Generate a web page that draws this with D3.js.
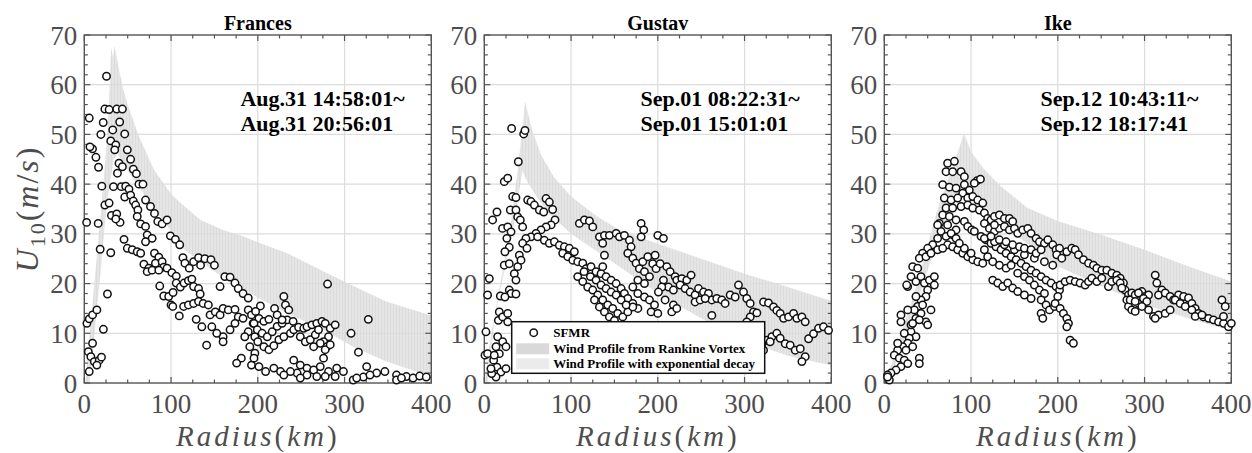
<!DOCTYPE html>
<html>
<head>
<meta charset="utf-8">
<script src="https://cdn.jsdelivr.net/npm/d3@7"></script>
<style>
  body { margin: 0; background: #fff; }
  svg { display: block; }
  text { font-family: "Liberation Serif", Tinos, "Times New Roman", "DejaVu Serif", serif; }
</style>
</head>
<body>
<div id="chart"></div>
<script>
// ---- data ----
var xTicks = [0, 100, 200, 300, 400];
var yTicks = [0, 10, 20, 30, 40, 50, 60, 70];
var titles = ["Frances", "Gustav", "Ike"];
var timeLabels = [
    ["Aug.31 14:58:01~", "Aug.31 20:56:01"],
    ["Sep.01 08:22:31~", "Sep.01 15:01:01"],
    ["Sep.12 10:43:11~", "Sep.12 18:17:41"]
];
var legendLabels = ["SFMR", "Wind Profile from Rankine Vortex", "Wind Profile with exponential decay"];

// SFMR observations [radius km, U10 m/s]
var francesSfmr = [[25.6,61.7],[5.7,53.3],[23.7,55.1],[28.6,55],[37.4,55.1],[43.9,55.1],[21.8,52.4],[40.8,52.5],[32.8,50.9],[19.1,50],[46.6,50.1],[30.5,48.7],[36.3,47.9],[35.1,46.9],[9.5,47.1],[13.4,45.4],[49.6,46.9],[53.4,45],[40,44.2],[43.9,43.5],[16.4,43.4],[56.5,43],[38.2,42.2],[60,42.1],[20.2,39.6],[33.6,39.5],[42.7,39.5],[47.7,39.6],[51.5,39],[63,40],[67.6,40],[46.6,37.4],[53.4,37.8],[56.5,36.6],[2.7,32.3],[23.7,35.8],[28.6,36.2],[59.2,35.8],[61.8,34.8],[70.6,36.8],[76.3,35.5],[31.3,33.7],[37.4,34],[41.2,32.3],[36.3,33],[16,32.1],[61,33.5],[65,32],[70.6,31.5],[80.9,34.1],[84.7,32.5],[89.7,32],[95.4,32.8],[18.3,26.9],[30.5,26.2],[45.8,28.9],[49.6,27.1],[55.3,26.8],[61,26.4],[65,26.1],[72.5,29.8],[78.2,29.1],[70.6,28.4],[99.2,29.6],[105,28.9],[110,27.8],[68.7,23.9],[74.4,23.1],[72.5,22.4],[80.9,26.1],[85.9,25.3],[82,24.1],[89.7,24.4],[91.6,23.3],[78.2,22.7],[85.9,22.7],[95.4,23.1],[101,22.2],[106,21.5],[113.7,25.2],[116,24.1],[121,23.1],[126,24.4],[131.7,25.2],[134,23.7],[139,25],[146,24.8],[150,23.7],[87,19.5],[91.6,17.5],[97.3,17.4],[102.3,18.2],[100,15.7],[106,20.1],[110.7,19.3],[115,20.1],[120,20.6],[124,20.9],[126,19.4],[131.7,19],[133.6,17.9],[102,15.4],[109.5,13.5],[114.5,15.4],[120,15.7],[126,16],[131.7,16.4],[137,16],[143,15.7],[156.5,19.4],[162,21.4],[168,21.3],[173.7,20.1],[177.5,19],[183,18],[189,17.1],[129,12.8],[135.5,11.3],[141,7.6],[145,13.7],[151,14.3],[156.5,13.7],[160,15],[166,14.7],[173.7,14.8],[177.5,13.3],[173.7,12],[168,10.7],[160,9.3],[152.7,10],[147,11.3],[160,8.3],[183,13],[189,14.7],[192.7,13.7],[194.6,12],[189,10.3],[185,9.3],[190.8,7.3],[196.6,6],[181,5],[175.6,4],[192.7,3.6],[196.6,9.3],[3,12],[5.7,12.9],[9.5,13.7],[14.5,14.7],[26.7,17.9],[22,10.8],[9.5,8],[4.6,6.3],[7.6,5.3],[11.5,4.3],[17.2,4.6],[19.8,5.2],[5.7,2.3],[14.5,3.6],[6.5,47.5],
    [280.4,19.9],[327.4,12.8],[307.5,10],[316,6.2],[230,17.4],[231.9,15.7],[235.7,14.7],[219.3,15],[203,15.5],[197.5,14.4],[201.3,13],[207,12.4],[212.8,12.8],[195.6,12],[199.4,10.7],[205,10],[210.9,9.3],[216.6,10.3],[222.3,11.4],[228,12],[233.8,12.7],[240.7,12.4],[200,8.3],[207,7.3],[212.8,6.7],[218.5,7.5],[224.3,8.7],[230,9.3],[237.6,10],[241.4,10.7],[247,11.2],[253,11],[256.7,11.3],[262.4,11.7],[268,12],[274,12.4],[277.7,12],[283.5,11],[289.2,11.7],[281.5,9.3],[275.8,8.3],[279.6,7.3],[249,9.3],[254.8,8.3],[260.5,8.7],[266.3,9.7],[270,10.7],[272,8],[264.4,7.3],[195.6,5],[201.3,3.3],[209,2.3],[218.5,3],[226.2,2.3],[241.4,4.6],[249,3.6],[256.7,3],[264.4,2.6],[272,3.3],[281.5,2.3],[291,3],[298.7,2.3],[289.2,1.3],[277.7,1.3],[268,1.3],[256.7,1.6],[245.3,2],[237.6,2.3],[230,1.6],[249,1],[275.8,5],[277.7,6.7],[283.5,7.7],[310,0.6],[321.7,1.2],[325.5,3.3],[337,2],[346.5,2.3],[359.9,1.6],[371.3,1.3],[379,1],[386.6,1.4],[394.2,1.2],[359.9,0.6],[365.6,1],[329.3,1.6],[314,1],[222.3,13.7],[228,12.7]];

var gustavSfmr = [[31.5,51.2],[45.4,50.1],[46.9,50.8],[39.2,44.5],[23,40.5],[27,41.2],[3.8,17.7],[5.8,21],[1.9,10.3],[0.8,5.6],[9.6,32.8],[14.6,34.4],[21,31.1],[27,31.4],[30.8,30.4],[26,29.1],[28.8,27.3],[23.8,26.4],[32.7,37.5],[36.5,37.3],[30,34.8],[36.5,34.8],[38.5,33.4],[41.5,32.8],[44.2,31.4],[50,36.8],[53.8,36.5],[57.7,35.8],[63.5,34.8],[68.5,34.4],[71.2,37.1],[75,36.4],[78.8,34.9],[81.5,32.8],[77,31.8],[71.2,31.4],[65.4,30.8],[59.6,30.1],[53.8,29.4],[48,29.1],[44.2,28.1],[49.2,27.1],[40.4,25.7],[23,23.7],[28.8,24],[38.5,23.4],[42.3,24.7],[34.6,22],[36.5,20.7],[28.8,18.7],[30.8,18],[36.5,17.9],[18.5,17.5],[23.8,17.3],[17.3,14.3],[16.2,12.6],[21.2,13.3],[27,14],[27,12.3],[15.4,9.3],[21.2,8.3],[25,7.3],[13.5,7.3],[17.3,5.9],[10.8,4.6],[14.6,3.2],[19.2,2.2],[25,2.9],[13.5,1.2],[8.5,1.9],[3.8,5.9],[11.5,5.6],[7.7,2.9],
    [61.5,29.4],[69.2,28.7],[75,28.1],[80.8,28.4],[86.5,27.7],[92.3,27.4],[98,27.1],[103.8,26.4],[90.4,26.1],[96.2,25.4],[102,24.7],[107.7,24.4],[113.5,24.1],[117.3,23],[123,23.4],[128.8,22.4],[134.6,22],[140.4,21.4],[146.2,20.7],[152,20],[157.7,19],[161.5,18],[165.4,17],[171.2,16],[177,15],
    [107.7,21.4],[113.5,20.4],[119.2,19.3],[125,18.7],[130.8,17.7],[136.5,16.7],[142.3,15.7],[148,15],[153.8,14],[159.6,13.3],[165.4,14.3],[171.2,15.3],[127,16.7],[132.7,15.3],[138.5,14.3],[144.2,13.3],[150,12.6],
    [115,22.4],[122.3,21.4],[128.8,20.7],[134.6,19.7],[140.4,19],[146.2,18.3],[152,17.7],[157.7,16.7],[163.5,15.7],
    [109.6,32.1],[115.4,32.8],[121.2,32.6],[125,31.4],[132.7,29.4],[138.5,29.7],[144.2,29.7],[152,30.1],[155.8,29.4],[161.5,29.7],[167.3,28.7],[169.2,27.4],[165.4,26.1],[171.2,25.1],[175,24.1],[178.8,23],[184.6,22.4],[182.7,24.4],[188.5,25.4],[194.2,24],[198,23],[190.4,21.4],[184.6,20],[180.8,32.1],[183.8,30.8],[180.8,29.4],[136.5,28.1],[138.5,25.7],[136.5,23.4],[200,29.7],[177,20.7],[171.2,19.3],[177,18],[184.6,17.3],[190.4,16.7],[196.2,15.7],[192.3,14.3],[200,14],
    [206.5,29.1],[196.9,25.7],[202.7,24],[210.4,23.4],[214.2,22.4],[220,21.4],[206.5,20.7],[212.3,19.3],[218,18.7],[204.6,19.3],[200.7,18.3],[208.4,16.7],[218,15.7],[216.1,14.3],[221.9,15],[221.9,20.7],[227.7,21],[233.4,20.7],[238.4,21.7],[225.7,19.7],[231.5,19],[237.3,18.3],[243,17.7],[246.9,19],[252.7,18.3],[258.4,18],[262.3,16.7],[268,17],[273.8,16.7],[277.6,16],[283.4,17.7],[289.2,17.3],[243,16.3],[248.8,16.7],[254.6,17],[262.3,13.6],[293,19.7],[298.8,18.3],[302.6,17],[306.5,16],[310.3,14.3],[314.2,14.1],[306.5,13.3],[302.6,12.3],[298.8,11.3],[321.9,16.3],[327.6,16.1],[333.4,15.3],[337.2,14.6],[341.1,14],[345,13],[350.7,13.3],[356.5,14],[360.3,13],[366.1,13.3],[369.9,12.3],[373.8,8.9],[379.5,9.9],[385.3,11],[391,11.3],[396.8,10.6],[325.7,8.6],[331.5,9.3],[337.2,10],[341.1,9],[346.9,7.9],[352.6,7.6],[358.4,6.6],[364.2,6.9],[369.9,5.3],[366.1,4.3],[320,7.9],[316.1,6.9],[321.9,6.6],[329.5,8.3]];

var ikeSfmr = [[73,44.2],[80.8,44.6],[71.2,42.5],[78.8,42.5],[88.5,42.5],[92.3,41.5],[107,40.7],[110.8,41],[103.8,40.2],[67.3,39.9],[75,39.4],[82.7,39.2],[92.3,39.9],[98,38.8],[90.4,38.2],[69.2,37.2],[77,36.8],[84.6,37.2],[96.2,37.2],[102,37.5],[107.7,36.8],[113.5,36.2],[71.2,35.2],[78.8,35.2],[88.5,35.5],[96.2,35.8],[102,35.2],[67.3,33.8],[75,33.5],[82.7,32.8],[63.5,32.1],[73,31.8],[65.4,30.5],[61.5,29.1],[71.2,29.5],[78.8,29.8],[82.7,30.8],[92.3,32.5],[96.2,31.5],[100.8,30.8],[103.8,30.5],[61.5,31.8],[77,30.1],[82.7,29.1],
    [109.6,34.8],[115.4,34.2],[119.2,33.1],[123,32.8],[127,33.5],[132.7,33.8],[138.5,33.1],[144.2,33.1],[148,32.5],[115.4,32.1],[121.2,31.1],[127,30.5],[132.7,31.1],[138.5,31.5],[144.2,30.8],[150,31.1],[153.8,30.1],[159.6,30.8],[165.4,31.1],[169.2,30.1],[175,29.1],[178.8,28.4],[184.6,28.1],[188.5,28.8],[194.2,27.8],[198,26.8],[202,27.1],[127,31.8],
    [111.5,29.5],[117.3,28.8],[123,28.1],[128.8,27.4],[134.6,26.8],[140.4,26.1],[146.2,25.4],[152,24.8],[157.7,24.1],[163.5,23.4],[169.2,22.7],[175,22.1],[180.8,21.4],[186.5,20.7],[192.3,20.1],[198,19.4],[202,18.7],
    [115.4,29.1],[127,28.4],[138.5,27.8],[150,26.8],[161.5,25.8],[173,25.1],[184.6,24.4],[194.2,23.7],
    [115.4,26.8],[119.2,25.4],[125,24.4],[132.7,23.7],[140.4,23.1],[146.2,23.7],[153.8,22.1],[161.5,21.4],[167.3,20.7],[173,19.7],[178.8,18.7],[184.6,18],[180.8,16.7],[186.5,15.7],[180.8,14],[182.7,13],[190.4,14.7],[196.2,15.4],[200,17.4],
    [125,20.7],[130.8,20.1],[136.5,19.4],[142.3,20.1],[148,19.1],[153.8,18.4],[161.5,17.7],[169.2,17],
    [73,27.8],[78.8,27.4],[84.6,26.8],[90.4,26.1],[96.2,25.4],[102,24.8],[107.7,24.4],[113.5,24.1],[100,26.1],[92.3,27.1],[86.5,28.1],
    [123,29.5],[132.7,28.8],[140.4,28.4],[148,27.8],[155.8,27.4],[161.5,27.1],[169.2,26.8],[175,26.1],[180.8,26.8],
    [55.8,27.8],[50,27.1],[44.2,26.1],[40.4,25.1],[48,25.4],[53.8,26.1],[61.5,26.8],[67.3,27.1],
    [32.7,23.4],[38.5,23.1],[30.8,21.4],[27,19.4],[36.5,20.4],[42.3,21.4],[46.2,20.1],[52,20.7],[57.7,21.4],[57.7,19.7],[50,18.7],[48,17.4],[42.3,16.7],[36.5,17.4],
    [53.8,14.7],[42.3,14],[36.5,13],[48,12.3],[50,11.7],[19.2,13.7],[19.2,12.3],[30.8,10.3],[36.5,9.3],[28.8,9],[27,8],[21.2,7.3],[15.4,6.6],[11.5,5.6],[17.3,5],[23,4.6],[27,3.9],[19.2,3.3],[13.5,2.6],[7.7,2],[5.8,0.6],[3.8,1.6],[40.4,5],[40.4,3.9],[32.7,7.3],[25,6.6],[15.4,8],[23,10],[30.8,11.7],
    [38.5,15.4],[44.2,15.7],[34.6,14.7],[27,14.7],[32.7,12],[40.4,12.7],[25.8,19.7],[3.8,1.2],
    [198.8,25.8],[204.6,25.1],[210.4,26.4],[216.1,27.1],[220,26.8],[223.8,25.8],[229.6,24.8],[235.4,24.1],[241.1,23.7],[245,23.1],[250.7,22.7],[256.5,22.7],[262.3,22.1],[268,21.7],[271.9,21.1],[275.7,20.1],[277.6,18.7],[281.5,17.7],[285.3,18.1],[291.1,17.4],[296.9,18.4],[300.7,17.4],[304.6,17.7],
    [202.7,19.7],[208.4,20.4],[214.2,20.7],[220,20.4],[225.7,20.1],[231.5,19.7],[235.4,20.4],[239.2,21.1],[245,20.4],[250.7,21.1],[258.4,19.4],[262.3,20.4],[268,20.7],[271.9,20.1],[273.8,19.1],[279.6,16.7],[281.5,15.4],[285.3,14.7],[289.2,14.4],[293,16],[283.4,16.7],[289.2,17.7],
    [196.9,16],[202.7,15],[206.5,14],[210.4,13],[212.3,12],[210.4,11.3],[214.2,8.6],[218,8],
    [312.3,21.7],[314.2,20.1],[320,18.7],[316.1,17.7],[323.8,18.1],[329.5,17.4],[333.4,16.7],[339.2,17.7],[345,17.4],[350.7,17.1],[354.5,16],[358.4,15],[362.2,14],[368,13.3],[373.8,13],[379.5,12.7],[385.3,12.3],[391.1,12],[396.8,11.3],[400,12],
    [304.6,14.7],[310.3,13.4],[316.1,13.7],[323.8,14],[329.5,14.7],[312.3,13],[389.2,16.7],[393,15.4],[391,13.4],
    [293,18.1],[298.8,17],[302.6,16.4],[289.2,16.4],[296.9,15.4],
    [335.3,16.7],[341.1,16],[346.9,15.4],[354.5,14.7],[358.4,13.4],[366.1,13.7]];

// model band outline: upper edge left->right, lower edge right->left
var francesBandUpper = [[1,0],[10,17],[21,38],[27,51],[31,67.5],[33,65.5],[35,67.8],[40,63],[45,59],[50,56],[63,49.6],[80,43],[100,38],[111,36.2],[134,32.8],[160,30.8],[183,29.5],[200,28.3],[234,26.1],[272,22.8],[303,20.1],[348,16.4],[400,13.6]];
var francesBandLower = [[400,1.3],[348,4.3],[310,7.3],[272,11],[234,14],[200,17.2],[153,22.1],[115,26.8],[99,30.8],[76,36.2],[57,40.9],[38,46.2],[34,45],[26,36.2],[19,22.7],[11.5,9.3],[6,0]];
var gustavBandUpper = [[0,0],[8,10],[29,30],[39,43.5],[47,56.6],[55,51],[65,46],[80,41.5],[100,37.5],[130,33.5],[156,30.8],[200,28],[250,25],[300,22],[350,19.3],[400,16.5]];
var gustavBandLower = [[400,3.5],[350,5.5],[300,8.5],[250,13],[200,18],[156,23.4],[100,30],[75,34],[60,37.5],[48,41],[44,42.8],[35,32.8],[11.5,12.6],[4,0]];
var ikeBandUpper = [[0,0],[7.4,3.3],[38,20],[61,34.8],[80,44],[92,50.2],[100,46.5],[115,43],[135,39.5],[165,35.2],[200,32.6],[250,29.8],[300,26.8],[350,23.5],[400,20.4]];
var ikeBandLower = [[400,10.5],[350,13],[300,15.8],[250,19.5],[200,23.5],[150,30],[110,36.5],[92,40],[60,28],[30,12],[5,0]];

var panels = [
    {sfmr: francesSfmr, upper: francesBandUpper, lower: francesBandLower},
    {sfmr: gustavSfmr, upper: gustavBandUpper, lower: gustavBandLower},
    {sfmr: ikeSfmr, upper: ikeBandUpper, lower: ikeBandLower}
];

// ---- layout ----
var width = 1252, height = 453;
var panelLeft = [84.3, 484.3, 884.3], panelW = 347, plotTop = 35, plotBottom = 383;
var axisColor = "#555", labelColor = "#4d4d4d";
var serif = "Liberation Serif, Tinos, Times New Roman, DejaVu Serif, serif";

var svg = d3.select("#chart").append("svg")
    .attr("width", width)
    .attr("height", height)
    .attr("font-family", serif)
    .style("background", "#fff");

var defs = svg.append("defs");
var pat = defs.append("pattern").attr("id", "stripes")
    .attr("patternUnits", "userSpaceOnUse")
    .attr("width", 3).attr("height", 20);
pat.append("rect").attr("width", 3).attr("height", 20).attr("fill", "#e0e0e0");
pat.append("rect").attr("width", 1).attr("height", 20).attr("fill", "#d6d6d6");

var y = d3.scaleLinear().domain([0, 70]).range([plotBottom, plotTop]);

panels.forEach(function(p, i) {
    var left = panelLeft[i], right = left + panelW;
    var x = d3.scaleLinear().domain([0, 400]).range([left, right]);
    var g = svg.append("g");

    defs.append("clipPath").attr("id", "clip" + i)
        .append("rect").attr("x", left).attr("y", plotTop)
        .attr("width", panelW).attr("height", plotBottom - plotTop);

    // grid
    g.selectAll(".gx").data(xTicks.slice(1, -1)).enter().append("line")
        .attr("x1", function(d) { return x(d); }).attr("x2", function(d) { return x(d); })
        .attr("y1", plotTop).attr("y2", plotBottom)
        .attr("stroke", "#dcdcdc").attr("stroke-width", 1.2);
    g.selectAll(".gy").data(yTicks.slice(1, -1)).enter().append("line")
        .attr("x1", left).attr("x2", right)
        .attr("y1", function(d) { return y(d); }).attr("y2", function(d) { return y(d); })
        .attr("stroke", "#dcdcdc").attr("stroke-width", 1.2);

    // model band
    var line = d3.line().x(function(d) { return x(d[0]); }).y(function(d) { return y(d[1]); });
    g.append("path")
        .attr("d", line(p.upper.concat(p.lower)) + "Z")
        .attr("fill", "url(#stripes)")
        .attr("fill-opacity", 0.85)
        .attr("clip-path", "url(#clip" + i + ")");

    // frame + ticks (inward, all four sides)
    g.append("rect").attr("x", left).attr("y", plotTop)
        .attr("width", panelW).attr("height", plotBottom - plotTop)
        .attr("fill", "none").attr("stroke", axisColor).attr("stroke-width", 1.4);

    var xMinor = d3.range(0, 401, 25), yMinor = d3.range(0, 71, 2);
    var ticks = g.append("g").attr("stroke", axisColor).attr("stroke-width", 1.2);
    xMinor.forEach(function(d) {
        var len = d % 100 === 0 ? 6 : 3.5;
        ticks.append("line").attr("x1", x(d)).attr("x2", x(d)).attr("y1", plotBottom).attr("y2", plotBottom - len);
        ticks.append("line").attr("x1", x(d)).attr("x2", x(d)).attr("y1", plotTop).attr("y2", plotTop + len);
    });
    yMinor.forEach(function(d) {
        var len = d % 10 === 0 ? 6 : 3.5;
        ticks.append("line").attr("x1", left).attr("x2", left + len).attr("y1", y(d)).attr("y2", y(d));
        ticks.append("line").attr("x1", right).attr("x2", right - len).attr("y1", y(d)).attr("y2", y(d));
    });

    // tick labels
    g.selectAll(".xl").data(xTicks).enter().append("text")
        .attr("x", function(d) { return x(d); }).attr("y", 413)
        .attr("text-anchor", "middle")
        .attr("font-size", 27).attr("fill", labelColor)
        .text(function(d) { return d; });
    g.selectAll(".yl").data(yTicks).enter().append("text")
        .attr("x", left - 7).attr("y", function(d) { return y(d) + 9.5; })
        .attr("text-anchor", "end")
        .attr("font-size", 27).attr("fill", labelColor)
        .text(function(d) { return d; });

    // x label
    var xl = g.append("text")
        .attr("x", (left + right) / 2).attr("y", 446)
        .attr("text-anchor", "middle")
        .attr("font-size", 29).attr("fill", labelColor)
        .attr("letter-spacing", 3);
    xl.append("tspan").attr("font-style", "italic").text("Radius");
    xl.append("tspan").text("(");
    xl.append("tspan").attr("font-style", "italic").text("km");
    xl.append("tspan").text(")");

    // title
    g.append("text")
        .attr("x", (left + right) / 2).attr("y", 30)
        .attr("text-anchor", "middle")
        .attr("font-size", 20).attr("font-weight", "bold")
        .text(titles[i]);

    // SFMR circles
    g.selectAll(".pt").data(p.sfmr).enter().append("circle")
        .attr("cx", function(d) { return x(d[0]); })
        .attr("cy", function(d) { return y(d[1]); })
        .attr("r", 3.7)
        .attr("fill", "#fff").attr("stroke", "#111").attr("stroke-width", 1.5);

    // time annotation
    timeLabels[i].forEach(function(t, k) {
        g.append("text")
            .attr("x", x(180)).attr("y", 106 + k * 25)
            .attr("font-size", 22).attr("font-weight", "bold")
            .text(t);
    });
});

// y label (shared, left panel)
var yl = svg.append("text")
    .attr("transform", "translate(38," + (plotTop + plotBottom) / 2 + ") rotate(-90)")
    .attr("text-anchor", "middle")
    .attr("font-size", 32).attr("fill", labelColor)
    .attr("letter-spacing", 2);
yl.append("tspan").attr("font-style", "italic").text("U");
yl.append("tspan").attr("dy", 7).attr("font-size", 22).text("10");
yl.append("tspan").attr("dy", -7).text("(");
yl.append("tspan").attr("font-style", "italic").text("m");
yl.append("tspan").text("/");
yl.append("tspan").attr("font-style", "italic").text("s");
yl.append("tspan").text(")");

// legend in the Gustav panel
var lx = panelLeft[1] + 27.4, ly = 321.7;
var leg = svg.append("g");
leg.append("rect").attr("x", lx).attr("y", ly).attr("width", 253).attr("height", 51.6)
    .attr("fill", "#fff").attr("stroke", "#111").attr("stroke-width", 1.5);
leg.append("circle").attr("cx", lx + 22).attr("cy", ly + 11).attr("r", 3.7)
    .attr("fill", "#fff").attr("stroke", "#111").attr("stroke-width", 1.5);
leg.append("rect").attr("x", lx + 4.5).attr("y", ly + 21.6).attr("width", 33).attr("height", 11)
    .attr("fill", "#d9d9d9");
leg.append("rect").attr("x", lx + 4.5).attr("y", ly + 36.5).attr("width", 33).attr("height", 11)
    .attr("fill", "#ebebeb");
legendLabels.forEach(function(t, k) {
    leg.append("text")
        .attr("x", lx + 41.5).attr("y", ly + 15.5 + k * 15.5)
        .attr("font-size", 13).attr("font-weight", "bold")
        .text(t);
});
</script>
</body>
</html>
